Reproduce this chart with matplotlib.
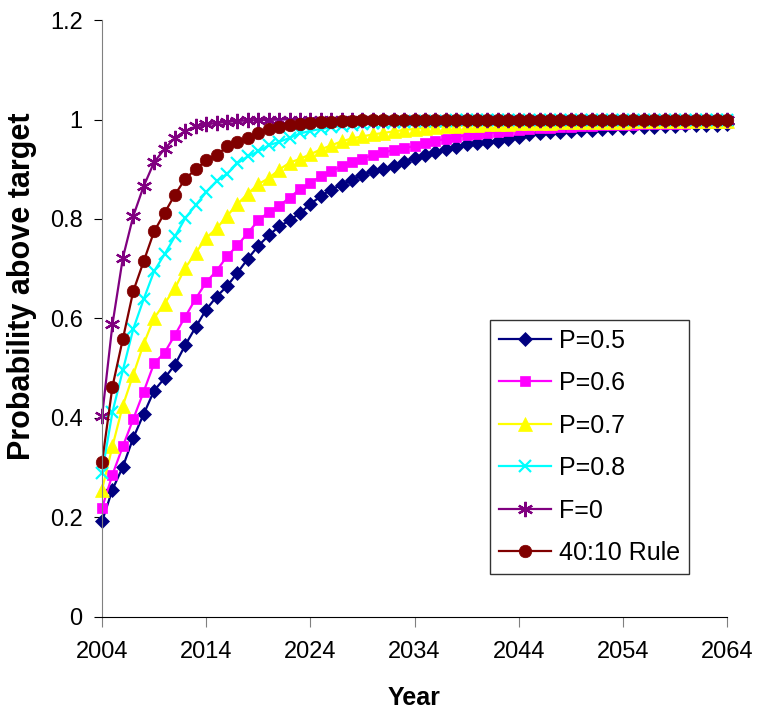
import matplotlib
matplotlib.use("Agg")
import matplotlib.pyplot as plt
import numpy as np

plt.rcParams["font.family"] = ["Liberation Sans", "DejaVu Sans"]

years = np.arange(2004, 2065)

p05 = [0.192, 0.256, 0.302, 0.360, 0.408, 0.455, 0.480, 0.507, 0.547, 0.583,
       0.618, 0.644, 0.665, 0.692, 0.720, 0.746, 0.767, 0.785, 0.797, 0.812,
       0.830, 0.846, 0.859, 0.869, 0.879, 0.889, 0.896, 0.900, 0.906, 0.915,
       0.922, 0.928, 0.935, 0.940, 0.945, 0.950, 0.953, 0.955, 0.957, 0.960,
       0.965, 0.970, 0.972, 0.974, 0.975, 0.977, 0.978, 0.979, 0.980, 0.982,
       0.983, 0.984, 0.985, 0.985, 0.986, 0.987, 0.988, 0.988, 0.989, 0.989,
       0.990]
p06 = [0.219, 0.286, 0.343, 0.398, 0.453, 0.510, 0.531, 0.567, 0.604, 0.640,
       0.673, 0.696, 0.725, 0.747, 0.772, 0.797, 0.814, 0.826, 0.843, 0.860,
       0.872, 0.886, 0.896, 0.906, 0.914, 0.921, 0.929, 0.934, 0.938, 0.942,
       0.947, 0.952, 0.957, 0.961, 0.965, 0.968, 0.971, 0.973, 0.975, 0.977,
       0.979, 0.980, 0.982, 0.983, 0.984, 0.985, 0.986, 0.987, 0.988, 0.988,
       0.989, 0.989, 0.990, 0.990, 0.991, 0.991, 0.991, 0.992, 0.992, 0.992,
       0.992]
p07 = [0.256, 0.343, 0.425, 0.487, 0.549, 0.601, 0.630, 0.661, 0.702, 0.732,
       0.762, 0.781, 0.806, 0.830, 0.851, 0.870, 0.882, 0.899, 0.913, 0.921,
       0.930, 0.940, 0.948, 0.956, 0.962, 0.966, 0.970, 0.973, 0.976, 0.979,
       0.981, 0.983, 0.985, 0.986, 0.987, 0.988, 0.989, 0.990, 0.991, 0.991,
       0.992, 0.992, 0.993, 0.993, 0.994, 0.994, 0.994, 0.995, 0.995, 0.995,
       0.995, 0.996, 0.996, 0.996, 0.996, 0.996, 0.996, 0.996, 0.996, 0.996,
       0.996]
p08 = [0.289, 0.412, 0.496, 0.579, 0.639, 0.695, 0.729, 0.765, 0.802, 0.828,
       0.854, 0.876, 0.891, 0.912, 0.926, 0.936, 0.948, 0.955, 0.963, 0.972,
       0.977, 0.981, 0.984, 0.987, 0.989, 0.991, 0.992, 0.993, 0.994, 0.995,
       0.996, 0.996, 0.997, 0.997, 0.998, 0.998, 0.998, 0.999, 0.999, 0.999,
       0.999, 0.999, 0.999, 0.999, 0.999, 0.999, 1.000, 1.000, 1.000, 1.000,
       1.000, 1.000, 1.000, 1.000, 1.000, 1.000, 1.000, 1.000, 1.000, 1.000,
       1.000]
f0 = [0.403, 0.588, 0.722, 0.806, 0.866, 0.914, 0.941, 0.963, 0.977, 0.986,
      0.990, 0.993, 0.995, 0.997, 0.998, 0.999, 0.999] + [1.000] * 44
rule4010 = [0.311, 0.463, 0.559, 0.655, 0.715, 0.775, 0.812, 0.849, 0.881, 0.900,
            0.918, 0.928, 0.946, 0.955, 0.963, 0.973, 0.980, 0.985, 0.988, 0.990,
            0.992, 0.994, 0.995, 0.996, 0.997, 0.998, 0.998, 0.999, 0.999, 0.999] + [1.000] * 31

series = [
    ("P=0.5", p05, "#000080", "D", 7.5),
    ("P=0.6", p06, "#FF00FF", "s", 7.5),
    ("P=0.7", p07, "#FFFF00", "^", 9.5),
    ("P=0.8", p08, "#00FFFF", "x", 9),
    ("F=0", f0, "#800080", (6, 2, 0), 11),
    ("40:10 Rule", rule4010, "#800000", "o", 9),
]

fig = plt.figure(figsize=(7.58, 7.17), dpi=100)
ax = fig.add_axes([0.1346, 0.1395, 0.8246, 0.8326])

for label, vals, color, marker, ms in series:
    ax.plot(years, vals, color=color, lw=1.6, marker=marker, markersize=ms,
            markeredgewidth=1.6 if marker in ("x", (6, 2, 0)) else 0.5,
            markeredgecolor=color, markerfacecolor=color, label=label,
            clip_on=False)

ax.set_xlim(2004, 2064)
ax.set_ylim(0, 1.2)
ax.set_xticks(np.arange(2004, 2065, 10))
ax.set_yticks([0, 0.2, 0.4, 0.6, 0.8, 1.0, 1.2])
ax.set_yticklabels(["0", "0.2", "0.4", "0.6", "0.8", "1", "1.2"])

for s in ["top", "right"]:
    ax.spines[s].set_visible(False)
ax.spines["left"].set_color("#808080")
ax.spines["bottom"].set_color("black")
ax.tick_params(axis="y", direction="out", length=6, color="black", labelsize=17, pad=8)
ax.tick_params(axis="x", direction="out", length=7, color="#808080", labelsize=17, pad=10)

ax.set_xlabel("Year", fontsize=18, fontweight="bold", labelpad=17)
ax.set_ylabel("Probability above target", fontsize=22, fontweight="bold")
ax.yaxis.set_label_coords(-0.104, 0.554)

leg = ax.legend(loc="upper left", bbox_to_anchor=(0.621, 0.4975), borderaxespad=0,
                fontsize=18, frameon=True, fancybox=False, edgecolor="black",
                labelspacing=0.74, handlelength=2.1, handletextpad=0.3, borderpad=0.35)
leg.get_frame().set_linewidth(1.0)

fig.savefig("out.png", dpi=100, facecolor="white")
